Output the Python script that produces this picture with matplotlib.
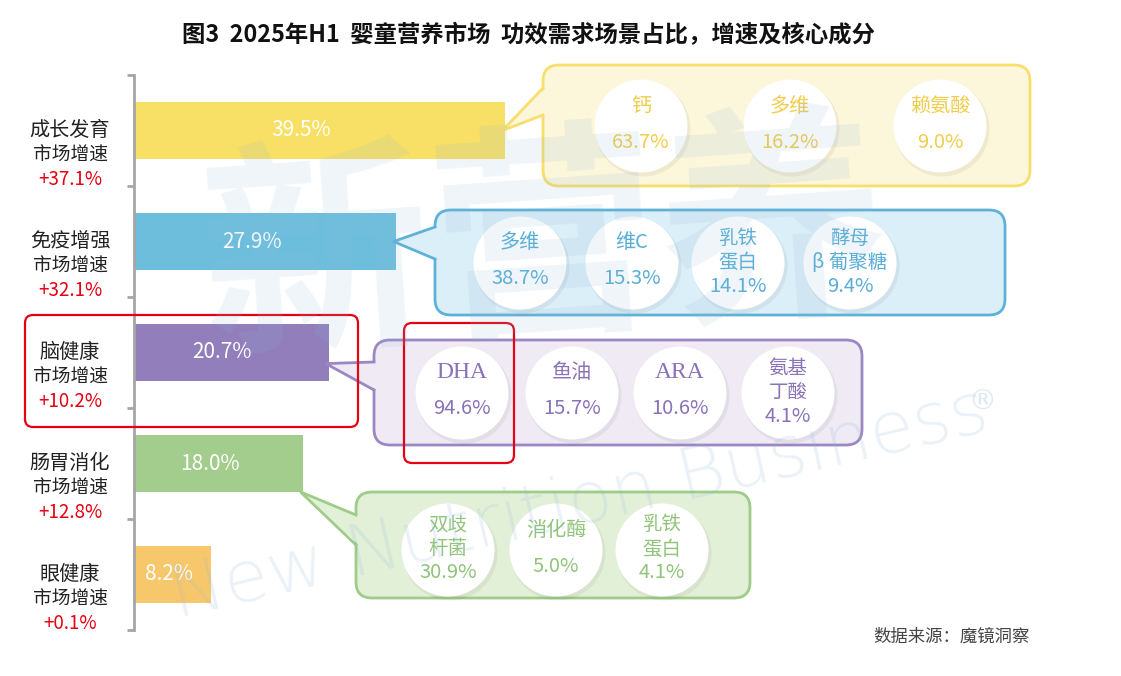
import matplotlib
matplotlib.use("Agg")
import matplotlib.pyplot as plt
from matplotlib.patches import FancyBboxPatch, Ellipse, Polygon

plt.rcParams["font.family"] = ["Noto Sans CJK SC", "DejaVu Sans"]

W, H = 1121, 676

# --- data -------------------------------------------------------------
categories = ["成长发育", "免疫增强", "脑健康", "肠胃消化", "眼健康"]
shares = [39.5, 27.9, 20.7, 18.0, 8.2]
growth_rates = [37.1, 32.1, 10.2, 12.8, 0.1]
bar_colors = ["#F8E066", "#6DBEDD", "#917EBB", "#A3CD8C", "#F6C86B"]

growth_items = ["钙", "多维", "赖氨酸"]
growth_pcts = [63.7, 16.2, 9.0]
immune_items = ["多维", "维C", "乳铁\n蛋白", "酵母\nβ 葡聚糖"]
immune_pcts = [38.7, 15.3, 14.1, 9.4]
brain_items = ["DHA", "鱼油", "ARA", "氨基\n丁酸"]
brain_pcts = [94.6, 15.7, 10.6, 4.1]
gut_items = ["双歧\n杆菌", "消化酶", "乳铁\n蛋白"]
gut_pcts = [30.9, 5.0, 4.1]

TITLE = "图3  2025年H1  婴童营养市场  功效需求场景占比，增速及核心成分"
SOURCE = "数据来源：魔镜洞察"
RED = "#E60012"

# --- callout layout (pixel space) --------------------------------------
callouts = [
    dict(cat=0, items=growth_items, pcts=growth_pcts, box=(543, 65, 1030, 186),
         xs=[641, 790, 940], cy=126, base=(88, 115), tip_dy=0.0,
         fill="#FCF6DA", edge="#F8DE6B", text="#F0CD4C"),
    dict(cat=1, items=immune_items, pcts=immune_pcts, box=(435, 210, 1005, 315),
         xs=[520, 632, 738, 850], cy=263, base=(227, 259), tip_dy=0.0,
         fill="#DBEFF8", edge="#5EB2D8", text="#58AED7"),
    dict(cat=2, items=brain_items, pcts=brain_pcts, box=(374, 340, 862, 445),
         xs=[462, 572, 680, 788], cy=393, base=(362, 390), tip_dy=0.1,
         fill="#EFEAF4", edge="#9B87C3", text="#8A72B8"),
    dict(cat=3, items=gut_items, pcts=gut_pcts, box=(356, 492, 750, 598),
         xs=[448, 556, 662], cy=550, base=(515, 545), tip_dy=0.255,
         fill="#E3F0D8", edge="#9FCC89", text="#90C47A"),
]

fig = plt.figure(figsize=(W / 100, H / 100), dpi=100)
fig.patch.set_facecolor("white")

# bar axes
left, right, top, bottom = 134, 1030, 75, 630
ax = fig.add_axes([left / W, (H - bottom) / H, (right - left) / W, (bottom - top) / H])
ax.set_facecolor("none")
ax.set_xlim(0, (right - left) / 9.4)
ax.set_ylim(len(categories) - 0.5, -0.5)
ypos = list(range(len(categories)))
ax.barh(ypos, shares, height=0.52, color=bar_colors, zorder=2)
for s in ("top", "right", "bottom"):
    ax.spines[s].set_visible(False)
ax.spines["left"].set_color("#A6A6A6")
ax.spines["left"].set_linewidth(2)
ax.set_xticks([])
ax.set_yticks([i - 0.5 for i in range(len(categories) + 1)])
ax.set_yticklabels([])
ax.tick_params(axis="y", length=5, width=2, color="#A6A6A6")
for i, v in enumerate(shares):
    ax.text(v * 0.45, i, f"{v:.1f}%", color="white", fontsize=15,
            ha="center", va="center", zorder=3)

# overlay in pixel coordinates
ov = fig.add_axes([0, 0, 1, 1])
ov.set_xlim(0, W)
ov.set_ylim(H, 0)
ov.axis("off")
ov.set_facecolor("none")


def to_px(x, y):
    disp = ax.transData.transform((x, y))
    return ov.transData.inverted().transform(disp)


# category labels
for i, (name, g) in enumerate(zip(categories, growth_rates)):
    _, yp = to_px(0, i)
    ov.text(70, yp, name, fontsize=14.5, ha="center", va="center", color="#222222")
    ov.text(70, yp + 25, "市场增速", fontsize=13.5, ha="center", va="center", color="#222222")
    ov.text(70, yp + 49, f"+{g:.1f}%", fontsize=13.5, ha="center", va="center", color=RED)


def draw_callout(c):
    x0, y0, x1, y1 = c["box"]
    i = c["cat"]
    tip = to_px(shares[i] - 0.3, i + c["tip_dy"])
    ov.add_patch(FancyBboxPatch((x0, y0), x1 - x0, y1 - y0,
                                boxstyle="round,pad=0,rounding_size=16",
                                fc=c["fill"], ec=c["edge"], lw=2, zorder=4))
    b1, b2 = c["base"]
    ov.add_patch(Polygon([tip, (x0 + 3, b1), (x0 + 3, b2)], closed=True,
                         fc=c["fill"], ec="none", zorder=4.1))
    ov.plot([x0, tip[0], x0], [b1, tip[1], b2], color=c["edge"], lw=2,
            zorder=4.2, solid_joinstyle="miter")
    for cx, item, pct in zip(c["xs"], c["items"], c["pcts"]):
        ov.add_patch(Ellipse((cx + 2, c["cy"] + 3), 95, 95, fc="#000000",
                             alpha=0.05, ec="none", zorder=4.3))
        ov.add_patch(Ellipse((cx, c["cy"]), 93, 93, fc="white", ec="none", zorder=4.4))
        lines = item.split("\n")
        serif = item.isascii() and item.isupper()
        fam = ["Liberation Serif"] if serif else ["Noto Sans CJK SC", "DejaVu Sans"]
        fs = 17 if serif else 14.5
        if len(lines) == 1:
            ov.text(cx, c["cy"] - 20, item, fontsize=fs, family=fam, ha="center",
                    va="center", color=c["text"], zorder=5)
            ov.text(cx, c["cy"] + 16, f"{pct:.1f}%", fontsize=14.5, ha="center",
                    va="center", color=c["text"], zorder=5)
        else:
            for k, ln in enumerate(lines):
                ov.text(cx, c["cy"] - 25 + 24 * k, ln, fontsize=14, family=fam,
                        ha="center", va="center", color=c["text"], zorder=5)
            ov.text(cx, c["cy"] + 23, f"{pct:.1f}%", fontsize=14.5, ha="center",
                    va="center", color=c["text"], zorder=5)


for c in callouts:
    draw_callout(c)

# red highlight frames
ov.add_patch(FancyBboxPatch((25, 315), 333, 112, boxstyle="round,pad=0,rounding_size=8",
                            fc="none", ec=RED, lw=1.6, zorder=6))
ov.add_patch(FancyBboxPatch((404, 323), 110, 140, boxstyle="round,pad=0,rounding_size=8",
                            fc="none", ec=RED, lw=1.6, zorder=6))

# watermark
ov.text(545, 250, "新营养", fontsize=165, fontweight="bold", color="#8DB8DA",
        alpha=0.14, ha="center", va="center", rotation=4, zorder=7)
ov.text(580, 505, "New Nutrition Business", fontsize=52, color="#8DB8DA",
        alpha=0.18, ha="center", va="center", rotation=13, zorder=7,
        family=["DejaVu Sans"], fontweight="light")
ov.text(982, 402, "®", fontsize=20, color="#8DB8DA", alpha=0.3,
        ha="center", va="center", zorder=7, family=["DejaVu Sans"])

# title and source
ov.text(529, 35, TITLE, fontsize=16.8, fontweight="bold", ha="center", va="center",
        color="#111111")
ov.text(1030, 637, SOURCE, fontsize=12.5, ha="right", va="center", color="#444444")

fig.savefig("out.png", dpi=100)
